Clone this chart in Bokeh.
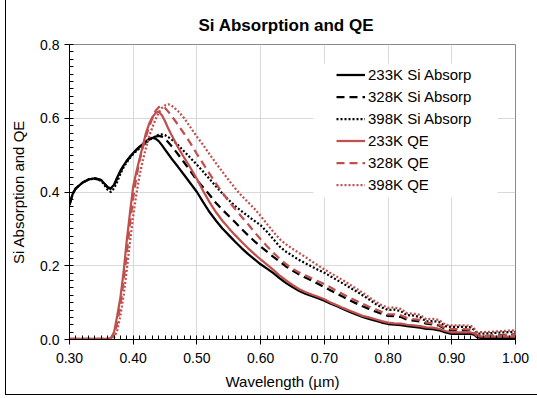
from bokeh.plotting import figure
from bokeh.models import (Legend, LegendItem, Range1d, SingleIntervalTicker,
                          NumeralTickFormatter, BoxAnnotation, Title)
from bokeh.embed import file_html
from bokeh.resources import INLINE

wavelength = [0.300, 0.305, 0.310, 0.320, 0.330, 0.340, 0.350, 0.360, 0.365, 0.370,
              0.375, 0.380, 0.385, 0.390, 0.395, 0.400, 0.405, 0.410, 0.415, 0.420,
              0.425, 0.430, 0.435, 0.440, 0.445, 0.450, 0.455, 0.460, 0.470, 0.480,
              0.490, 0.500, 0.510, 0.520, 0.530, 0.540, 0.550, 0.560, 0.570, 0.580,
              0.590, 0.600, 0.610, 0.620, 0.630, 0.640, 0.650, 0.660, 0.670, 0.680,
              0.690, 0.700, 0.710, 0.720, 0.730, 0.740, 0.750, 0.760, 0.770, 0.780,
              0.790, 0.800, 0.810, 0.820, 0.830, 0.840, 0.850, 0.860, 0.870, 0.880,
              0.890, 0.900, 0.910, 0.920, 0.930, 0.935, 0.940, 0.950, 0.960, 0.970,
              0.980, 0.990, 1.000]

abs_233 = [0.365, 0.395, 0.410, 0.425, 0.434, 0.437, 0.432, 0.413, 0.410, 0.420,
           0.440, 0.458, 0.472, 0.485, 0.496, 0.506, 0.515, 0.523, 0.530, 0.537,
           0.544, 0.547, 0.545, 0.538, 0.527, 0.515, 0.503, 0.491, 0.469, 0.446,
           0.423, 0.400, 0.372, 0.345, 0.322, 0.301, 0.283, 0.265, 0.248, 0.232,
           0.218, 0.204, 0.192, 0.180, 0.166, 0.153, 0.142, 0.132, 0.124, 0.118,
           0.112, 0.105, 0.097, 0.090, 0.082, 0.075, 0.068, 0.061, 0.056, 0.051,
           0.046, 0.042, 0.040, 0.039, 0.036, 0.034, 0.032, 0.029, 0.028, 0.025,
           0.019, 0.015, 0.015, 0.015, 0.015, 0.013, 0.006, 0.004, 0.004, 0.004,
           0.004, 0.004, 0.004]

abs_328 = [0.365, 0.395, 0.410, 0.425, 0.434, 0.437, 0.432, 0.412, 0.408, 0.418,
           0.438, 0.456, 0.471, 0.484, 0.495, 0.505, 0.514, 0.522, 0.529, 0.536,
           0.542, 0.547, 0.550, 0.552, 0.550, 0.544, 0.535, 0.525, 0.503, 0.480,
           0.456, 0.432, 0.412, 0.392, 0.370, 0.352, 0.335, 0.318, 0.300, 0.283,
           0.267, 0.252, 0.238, 0.224, 0.211, 0.198, 0.187, 0.177, 0.168, 0.160,
           0.151, 0.142, 0.133, 0.124, 0.115, 0.106, 0.098, 0.090, 0.083, 0.076,
           0.070, 0.064, 0.063, 0.061, 0.054, 0.051, 0.049, 0.043, 0.041, 0.038,
           0.028, 0.025, 0.025, 0.025, 0.025, 0.022, 0.010, 0.010, 0.010, 0.011,
           0.012, 0.013, 0.014]

abs_398 = [0.365, 0.395, 0.410, 0.425, 0.434, 0.436, 0.430, 0.406, 0.400, 0.410,
           0.428, 0.450, 0.467, 0.481, 0.493, 0.503, 0.511, 0.519, 0.526, 0.533,
           0.540, 0.546, 0.551, 0.555, 0.556, 0.554, 0.549, 0.543, 0.528, 0.510,
           0.492, 0.474, 0.455, 0.435, 0.415, 0.396, 0.378, 0.362, 0.348, 0.335,
           0.322, 0.310, 0.292, 0.272, 0.252, 0.238, 0.227, 0.216, 0.207, 0.198,
           0.189, 0.181, 0.171, 0.161, 0.151, 0.141, 0.131, 0.120, 0.109, 0.097,
           0.087, 0.080, 0.081, 0.077, 0.066, 0.065, 0.061, 0.049, 0.050, 0.048,
           0.036, 0.034, 0.034, 0.034, 0.033, 0.026, 0.016, 0.016, 0.017, 0.018,
           0.019, 0.020, 0.021]

qe_233 = [0.002, 0.002, 0.002, 0.002, 0.002, 0.002, 0.002, 0.002, 0.004, 0.020,
          0.065, 0.115, 0.185, 0.270, 0.345, 0.415, 0.455, 0.490, 0.525, 0.560,
          0.585, 0.603, 0.614, 0.618, 0.608, 0.592, 0.572, 0.555, 0.522, 0.493,
          0.465, 0.435, 0.402, 0.372, 0.345, 0.322, 0.302, 0.283, 0.265, 0.248,
          0.232, 0.217, 0.203, 0.189, 0.173, 0.160, 0.148, 0.137, 0.129, 0.122,
          0.116, 0.109, 0.100, 0.093, 0.085, 0.078, 0.071, 0.064, 0.060, 0.055,
          0.050, 0.046, 0.044, 0.043, 0.040, 0.038, 0.036, 0.033, 0.032, 0.029,
          0.023, 0.019, 0.019, 0.019, 0.019, 0.017, 0.009, 0.008, 0.008, 0.008,
          0.008, 0.008, 0.008]

qe_328 = [0.002, 0.002, 0.002, 0.002, 0.002, 0.002, 0.002, 0.002, 0.003, 0.012,
          0.045, 0.095, 0.160, 0.235, 0.315, 0.385, 0.440, 0.485, 0.520, 0.550,
          0.577, 0.600, 0.620, 0.630, 0.633, 0.628, 0.618, 0.607, 0.583, 0.558,
          0.532, 0.503, 0.476, 0.449, 0.423, 0.398, 0.375, 0.354, 0.333, 0.313,
          0.292, 0.272, 0.253, 0.235, 0.219, 0.204, 0.192, 0.182, 0.174, 0.166,
          0.158, 0.150, 0.141, 0.131, 0.122, 0.113, 0.105, 0.097, 0.089, 0.082,
          0.075, 0.068, 0.068, 0.066, 0.058, 0.055, 0.053, 0.046, 0.044, 0.040,
          0.031, 0.028, 0.028, 0.028, 0.027, 0.024, 0.011, 0.010, 0.010, 0.010,
          0.011, 0.012, 0.013]

qe_398 = [0.002, 0.002, 0.002, 0.002, 0.002, 0.002, 0.002, 0.002, 0.002, 0.005,
          0.025, 0.065, 0.120, 0.190, 0.265, 0.335, 0.395, 0.445, 0.485, 0.520,
          0.550, 0.575, 0.597, 0.615, 0.628, 0.635, 0.638, 0.635, 0.620, 0.600,
          0.575, 0.550, 0.527, 0.502, 0.478, 0.455, 0.432, 0.410, 0.390, 0.373,
          0.355, 0.335, 0.313, 0.292, 0.272, 0.258, 0.246, 0.235, 0.224, 0.212,
          0.201, 0.190, 0.180, 0.170, 0.160, 0.149, 0.138, 0.127, 0.115, 0.103,
          0.093, 0.086, 0.087, 0.083, 0.071, 0.070, 0.067, 0.055, 0.056, 0.053,
          0.040, 0.038, 0.038, 0.038, 0.037, 0.030, 0.020, 0.020, 0.021, 0.022,
          0.023, 0.024, 0.025]

series_labels = ["233K Si Absorp", "328K Si Absorp", "398K Si Absorp",
                 "233K QE", "328K QE", "398K QE"]

FONT = "Liberation Sans"
BLACK = "#000000"
RED = "#C0504D"

p = figure(frame_width=446, frame_height=295,
           output_backend="svg", toolbar_location=None,
           x_range=Range1d(0.3, 1.0), y_range=Range1d(0.0, 0.8),
           min_border_left=63, min_border_right=22, min_border_top=44,
           min_border_bottom=52)
p.styles = {"margin-left": "5px",
            "border-left": "1px solid #000000",
            "border-bottom": "1px solid #000000"}

p.title = Title(text="Si Absorption and QE", align="left", offset=129,
                standoff=19,
                text_font=FONT, text_font_size="17px", text_font_style="bold",
                text_color="#000000")

p.background_fill_color = "white"
p.border_fill_color = "white"
p.outline_line_color = "#898989"
p.outline_line_width = 1

# axes
p.xaxis.ticker = SingleIntervalTicker(interval=0.1, num_minor_ticks=10)
p.yaxis.ticker = SingleIntervalTicker(interval=0.2, num_minor_ticks=10)
p.xaxis.formatter = NumeralTickFormatter(format="0.00")
p.yaxis.formatter = NumeralTickFormatter(format="0.0")
for ax in (p.xaxis, p.yaxis):
    ax.axis_line_color = BLACK
    ax.axis_line_width = 1
    ax.major_tick_line_color = BLACK
    ax.minor_tick_line_color = BLACK
    ax.major_tick_in = 0
    ax.major_tick_out = 5
    ax.minor_tick_in = 4
    ax.minor_tick_out = 0
    ax.major_label_text_font = FONT
    ax.major_label_text_font_size = "14px"
    ax.major_label_text_color = BLACK
    ax.axis_label_text_font = FONT
    ax.axis_label_text_font_size = "15px"
    ax.axis_label_text_font_style = "normal"
    ax.axis_label_text_color = BLACK

p.xaxis.major_label_standoff = 8
p.yaxis.major_label_standoff = 5
p.yaxis.axis_label = "Si Absorption and QE"
p.yaxis.axis_label_standoff = 10

p.add_layout(Title(text="Wavelength (\u00b5m)", align="left", offset=156,
                   text_font=FONT, text_font_size="15px", text_font_style="normal",
                   text_color=BLACK, standoff=10), "below")

p.xgrid.grid_line_color = "#D9D9D9"
p.ygrid.grid_line_color = "#D9D9D9"
p.xgrid.grid_line_width = 1
p.ygrid.grid_line_width = 1

# white legend area that hides the grid
legend_bg = BoxAnnotation(left=244, right=428, bottom=142, top=276,
                          left_units="screen", right_units="screen",
                          bottom_units="screen", top_units="screen",
                          fill_color="white", fill_alpha=1.0, line_alpha=0.0,
                          level="underlay")
p.add_layout(legend_bg)

styles = [(abs_233, BLACK, "solid"), (abs_328, BLACK, "8 5"), (abs_398, BLACK, "2 2"),
          (qe_233, RED, "solid"), (qe_328, RED, "8 5"), (qe_398, RED, "2 2")]

items = []
for (vals, color, dash), label in zip(styles, series_labels):
    r = p.line(wavelength, vals, line_color=color, line_width=2.25, line_dash=dash)
    items.append(LegendItem(label=label, renderers=[r]))

legend = Legend(items=items, location=(263, 142), orientation="vertical",
                padding=4, spacing=5, glyph_width=29, glyph_height=17,
                label_height=17, label_standoff=3, margin=0,
                label_text_font=FONT, label_text_font_size="15px",
                label_text_color=BLACK,
                background_fill_alpha=0.0, border_line_alpha=0.0)
p.add_layout(legend, "center")

open("out.html", "w").write(file_html(p, INLINE))
